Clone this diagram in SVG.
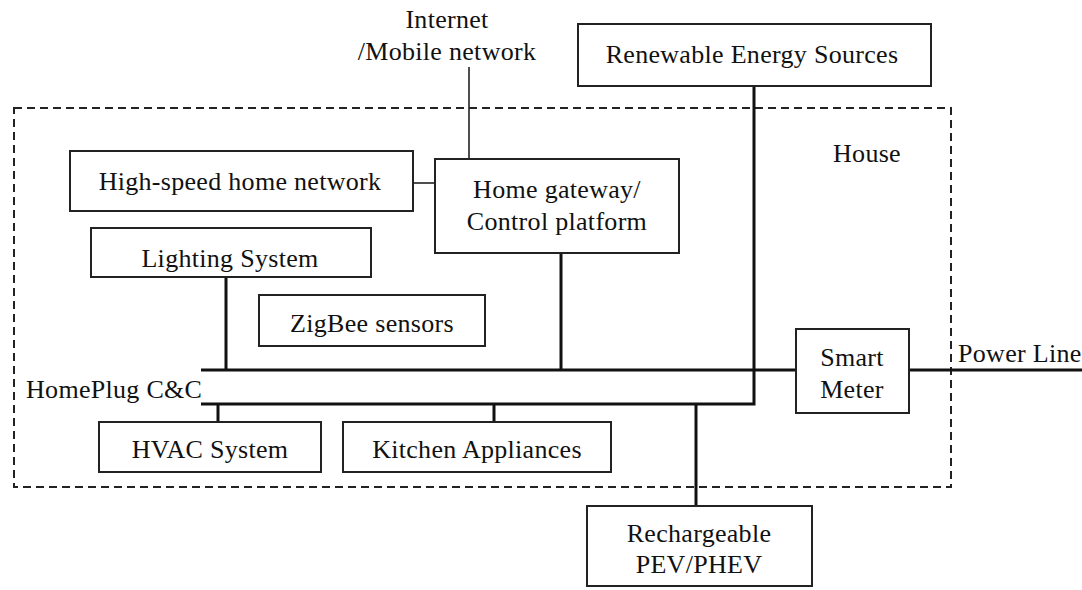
<svg xmlns="http://www.w3.org/2000/svg" width="1082" height="590" viewBox="0 0 1082 590">
<style>
.box{fill:#fff;stroke:#222;stroke-width:2}
.t{font-family:"Liberation Serif","Times New Roman",serif;font-size:26px;letter-spacing:0.3px;fill:#111;text-anchor:middle}
.ts{font-family:"Liberation Serif","Times New Roman",serif;font-size:26px;letter-spacing:0.3px;fill:#111}
.thick{stroke:#111;stroke-width:3;fill:none}
.thin{stroke:#222;stroke-width:1.6;fill:none}
</style>
<rect width="1082" height="590" fill="#fff"/>
<g id="house">
<rect x="14" y="108" width="937" height="379" fill="none" stroke="#222" stroke-width="2" stroke-dasharray="8,5"/>
<text class="ts" x="833" y="162">House</text>
</g>
<g id="connectors">
<line class="thin" x1="469" y1="67" x2="469" y2="159"/>
<line class="thin" x1="413" y1="183" x2="435" y2="183"/>
<line class="thick" x1="226" y1="277" x2="226" y2="370"/>
<line class="thick" x1="561" y1="253" x2="561" y2="370"/>
<line class="thick" x1="201" y1="370" x2="796" y2="370"/>
<line class="thick" x1="909" y1="370" x2="1082" y2="370"/>
<polyline class="thick" points="201,404 754,404 754,86"/>
<line class="thick" x1="218" y1="404" x2="218" y2="422"/>
<line class="thick" x1="494" y1="404" x2="494" y2="422"/>
<line class="thick" x1="696" y1="404" x2="696" y2="506"/>
</g>
<g id="internet">
<text class="t" x="447" y="28">Internet</text>
<text class="t" x="447" y="60">/Mobile network</text>
</g>
<g id="renewable">
<rect class="box" x="578" y="24" width="353" height="62"/>
<text class="t" x="752" y="63">Renewable  Energy Sources</text>
</g>
<g id="highspeed">
<rect class="box" x="70" y="151" width="343" height="60"/>
<text class="t" x="240" y="190">High-speed home network</text>
</g>
<g id="gateway">
<rect class="box" x="435" y="159" width="244" height="94"/>
<text class="t" x="557" y="198">Home gateway/</text>
<text class="t" x="557" y="230">Control platform</text>
</g>
<g id="lighting">
<rect class="box" x="91" y="228" width="280" height="49"/>
<text class="t" x="230" y="267">Lighting System</text>
</g>
<g id="zigbee">
<rect class="box" x="259" y="295" width="226" height="51"/>
<text class="t" x="372" y="332">ZigBee  sensors</text>
</g>
<g id="homeplug">
<text class="ts" x="26" y="398">HomePlug C&amp;C</text>
</g>
<g id="smartmeter">
<rect class="box" x="796" y="329" width="113" height="84"/>
<text class="t" x="852" y="366">Smart</text>
<text class="t" x="852" y="398">Meter</text>
</g>
<g id="powerline">
<text class="ts" x="958" y="362">Power Line</text>
</g>
<g id="hvac">
<rect class="box" x="99" y="422" width="222" height="50"/>
<text class="t" x="210" y="458">HVAC System</text>
</g>
<g id="kitchen">
<rect class="box" x="343" y="422" width="268" height="50"/>
<text class="t" x="477" y="458">Kitchen Appliances</text>
</g>
<g id="pev">
<rect class="box" x="587" y="506" width="225" height="80"/>
<text class="t" x="699" y="542">Rechargeable</text>
<text class="t" x="699" y="573">PEV/PHEV</text>
</g>
</svg>
